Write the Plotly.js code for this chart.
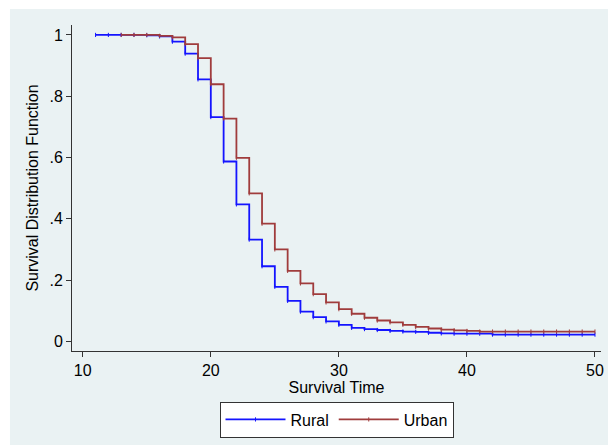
<!DOCTYPE html>
<html>
<head>
<meta charset="utf-8">
<script src="https://cdn.plot.ly/plotly-3.0.1.min.js"></script>
<style>
  html, body { margin: 0; padding: 0; background: #ffffff; }
  #km { width: 608px; height: 445px; }
</style>
</head>
<body>
<div id="km"></div>
<script>
// Kaplan-Meier estimates, one value per survival time
const ruralTime = [11, 12, 13, 14, 15, 16, 17, 18, 19, 20,
                   21, 22, 23, 24, 25, 26, 27, 28, 29, 30,
                   31, 32, 33, 34, 35, 36, 37, 38, 39, 40,
                   41, 42, 43, 44, 45, 46, 47, 48, 49, 50];
const ruralSurv = [1.000, 1.000, 1.000, 1.000, 0.999, 0.995, 0.978, 0.939, 0.855, 0.732,
                   0.587, 0.447, 0.332, 0.245, 0.178, 0.132, 0.097, 0.079, 0.065, 0.054,
                   0.044, 0.040, 0.037, 0.034, 0.032, 0.031, 0.028, 0.026, 0.025, 0.025,
                   0.025, 0.022, 0.022, 0.022, 0.022, 0.022, 0.022, 0.022, 0.022, 0.022];

const urbanTime = [13, 14, 15, 16, 17, 18, 19, 20,
                   21, 22, 23, 24, 25, 26, 27, 28, 29, 30,
                   31, 32, 33, 34, 35, 36, 37, 38, 39, 40,
                   41, 42, 43, 44, 45, 46, 47, 48, 49, 50];
const urbanSurv = [1.000, 1.000, 1.000, 0.997, 0.992, 0.970, 0.924, 0.839,
                   0.727, 0.599, 0.483, 0.384, 0.300, 0.230, 0.189, 0.154, 0.127, 0.105,
                   0.090, 0.077, 0.068, 0.062, 0.054, 0.047, 0.042, 0.038, 0.036, 0.034,
                   0.032, 0.032, 0.032, 0.032, 0.032, 0.032, 0.032, 0.032, 0.032, 0.032];

const xTicks = [10, 20, 30, 40, 50];
const yTicks = [0, 0.2, 0.4, 0.6, 0.8, 1];
const yTickText = ["0", ".2", ".4", ".6", ".8", "1"];

const font = "Liberation Sans, Arial, sans-serif";
const bluishGray = "#eaf2f3";
const textFont = { family: font, size: 16, color: "#000000" };

// step curve with the little censoring ticks
function kmTrace(x, y, name, color) {
    return {
        x: x,
        y: y,
        name: name,
        mode: "lines+markers",
        line: { shape: "hv", color: color, width: 1.8 },
        marker: {
            symbol: "line-ns-open",
            size: 3,
            color: color,
            line: { color: color, width: 1 }
        },
        hoverinfo: "x+y+name"
    };
}

const traces = [
    kmTrace(ruralTime, ruralSurv, "Rural", "#1414ff"),
    kmTrace(urbanTime, urbanSurv, "Urban", "#a03c3c")
];

const layout = {
    width: 608,
    height: 445,
    margin: { l: 72, r: 7, t: 25, b: 92 },
    paper_bgcolor: "#ffffff",
    plot_bgcolor: "#ffffff",
    font: textFont,
    showlegend: true,
    legend: {
        orientation: "h",
        x: 0.5,
        xanchor: "center",
        y: -0.155,
        yanchor: "top",
        bgcolor: "#ffffff",
        bordercolor: "#333333",
        borderwidth: 1,
        itemwidth: 60,
        font: textFont
    },
    xaxis: {
        range: [9.16, 50.47],
        tickvals: xTicks,
        ticks: "outside",
        ticklen: 5,
        tickcolor: "#333333",
        tickfont: textFont,
        showline: true,
        linecolor: "#333333",
        linewidth: 1,
        showgrid: false,
        zeroline: false,
        title: { text: "Survival Time", standoff: 0, font: textFont }
    },
    yaxis: {
        range: [-0.0315, 1.0324],
        tickvals: yTicks,
        ticktext: yTickText,
        ticks: "outside",
        ticklen: 5,
        tickcolor: "#333333",
        tickfont: textFont,
        showline: true,
        linecolor: "#333333",
        linewidth: 1,
        showgrid: true,
        gridcolor: bluishGray,
        gridwidth: 1,
        zeroline: false,
        title: { text: "Survival Distribution Function", standoff: 6, font: textFont }
    },
    shapes: [
        // graph region background behind the white plot region
        {
            type: "rect",
            xref: "paper", yref: "paper",
            x0: -0.1173, x1: 1.05,
            y0: -0.32, y1: 1.0488,
            fillcolor: bluishGray,
            line: { width: 0 },
            layer: "below"
        }
    ]
};

Plotly.newPlot("km", traces, layout, { displayModeBar: false, staticPlot: true });
</script>
</body>
</html>
